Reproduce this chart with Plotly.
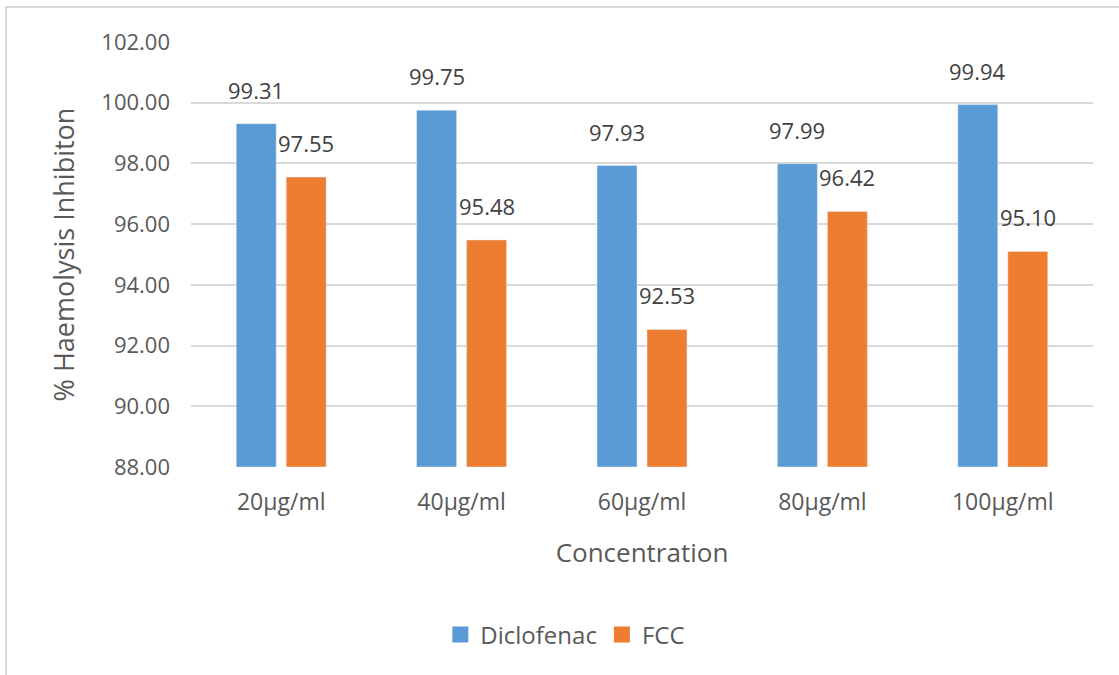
import plotly.graph_objects as go

categories = ["20µg/ml", "40µg/ml", "60µg/ml", "80µg/ml", "100µg/ml"]
diclofenac = [99.31, 99.75, 97.93, 97.99, 99.94]
fcc = [97.55, 95.48, 92.53, 96.42, 95.10]
base_value = 88
y_ticks = [88, 90, 92, 94, 96, 98, 100, 102]
y_tick_labels = [f"{v:.2f}" for v in y_ticks]

BLUE = "#5B9BD5"
ORANGE = "#ED7D31"
FONT = "Open Sans"
TXT = "#595959"

fig = go.Figure()
fig.add_trace(go.Bar(name="Diclofenac", x=categories, y=[v - base_value for v in diclofenac],
                     base=base_value, marker_color=BLUE, hoverinfo="skip", showlegend=False))
fig.add_trace(go.Bar(name="FCC", x=categories, y=[v - base_value for v in fcc],
                     base=base_value, marker_color=ORANGE, hoverinfo="skip", showlegend=False))
# legend entries with larger square swatches
fig.add_trace(go.Scatter(name="Diclofenac", x=[None], y=[None], mode="markers",
                         marker=dict(symbol="square", size=19, color=BLUE)))
fig.add_trace(go.Scatter(name="FCC", x=[None], y=[None], mode="markers",
                         marker=dict(symbol="square", size=19, color=ORANGE)))

for i, c in enumerate(categories):
    for vals, xs in ((diclofenac, -25), (fcc, 25)):
        fig.add_annotation(x=c, y=vals[i], text=f"{vals[i]:.2f}", showarrow=False,
                           xshift=xs, yshift=34, yanchor="middle",
                           font=dict(family=FONT, size=22, color="#404040"))

W, H = 1119, 675
L, R, T, B = 191, 26, 42, 208
pw, ph = W - L - R, H - T - B
def px(xp):
    return (xp - L) / pw
def py(yp):
    return (H - B - yp) / ph

fig.add_shape(type="path", xref="paper", yref="paper",
              path=f"M {px(6)} {py(690)} L {px(6)} {py(7)} L {px(1130)} {py(7)}",
              line=dict(color="#d9d9d9", width=2))

fig.update_layout(
    width=W, height=H,
    margin=dict(l=L, r=R, t=T, b=B, pad=0),
    paper_bgcolor="white", plot_bgcolor="white",
    barmode="group", bargap=0.446, bargroupgap=0.2,
    font=dict(family=FONT, size=22, color=TXT),
    showlegend=True,
    legend=dict(orientation="h", x=0.415, xanchor="center", y=-0.395, yanchor="middle",
                font=dict(family=FONT, size=24, color=TXT), itemsizing="trace",
                traceorder="normal"),
    xaxis=dict(showgrid=False, showline=False, zeroline=False,
               tickfont=dict(family=FONT, size=23, color=TXT),
               ticklabelstandoff=19,
               title=dict(text="Concentration", font=dict(family=FONT, size=26, color=TXT),
                          standoff=27)),
    yaxis=dict(range=[88, 102], tickvals=y_ticks, ticktext=y_tick_labels,
               showgrid=True, gridcolor="#d9d9d9", gridwidth=2, zeroline=False, showline=False,
               tickfont=dict(family=FONT, size=22, color=TXT), ticklabelstandoff=20,
               title=dict(text="% Haemolysis Inhibiton", font=dict(family=FONT, size=27, color=TXT),
                          standoff=18)),
)

fig.write_html("out.html", config={"displayModeBar": False},
               post_script="document.body.style.margin='0px';")
